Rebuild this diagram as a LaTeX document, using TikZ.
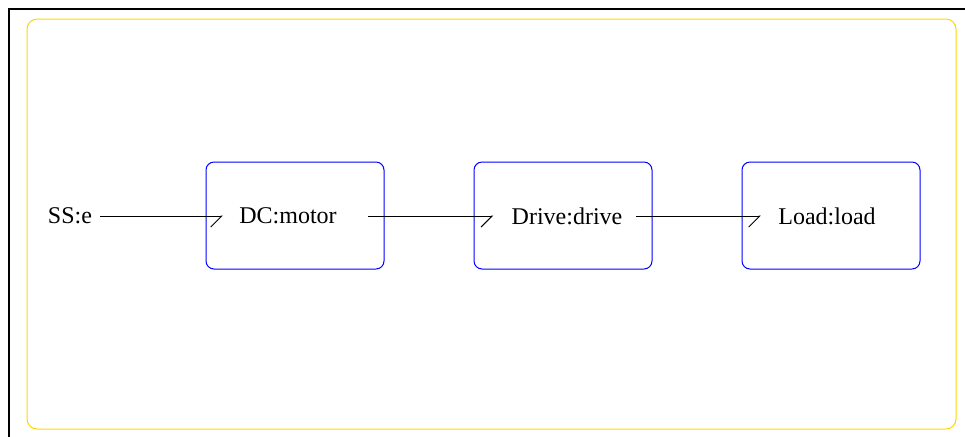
\documentclass[tikz,border=0pt]{standalone}
\usepackage{fontspec}
\setmainfont{Liberation Serif}
\usetikzlibrary{arrows.meta}

\begin{document}
\begin{tikzpicture}[x=0.5pt,y=-0.5pt,
    comp/.style={draw=blue,line width=0.5pt,rounded corners=4pt,minimum width=89pt,minimum height=53.5pt},
    port/.style={inner sep=0pt,font=\fontsize{12}{14}\selectfont},
    bond/.style={line width=0.5pt,-{Straight Barb[harpoon,swap,length=5.5pt,width=11pt]}}]
            \useasboundingbox (0,0) rectangle (965,436);
            % Outer frame
            \draw[line width=1pt] (9,446) -- (9,9) -- (975,9);
            \draw[line width=0.5pt,draw={rgb,255:red,255;green,215;blue,0},rounded corners=5pt] (27,19) rectangle (956,429);

            % Components
            \node[comp] (dcbox) at (295,215.5) {};
            \node[comp] (drivebox) at (563,215.5) {};
            \node[comp] (loadbox) at (831,215.5) {};

            % Labels
            \node[port] (sse) at (70,216) {SS:e};
            \node[port] (dc) at (288,216) {DC:motor};
            \node[port] (drive) at (567,216) {Drive:drive};
            \node[port] (load) at (827,216) {Load:load};

            % Bonds
            \draw[bond,shorten <=4pt,shorten >=8pt] (sse.east) -- (dc.west);
            \draw[bond,shorten <=15.5pt,shorten >=9pt] (dc.east) -- (drive.west);
            \draw[bond,shorten <=6.5pt,shorten >=8.5pt] (drive.east) -- (load.west);
        \end{tikzpicture}
\end{document}
